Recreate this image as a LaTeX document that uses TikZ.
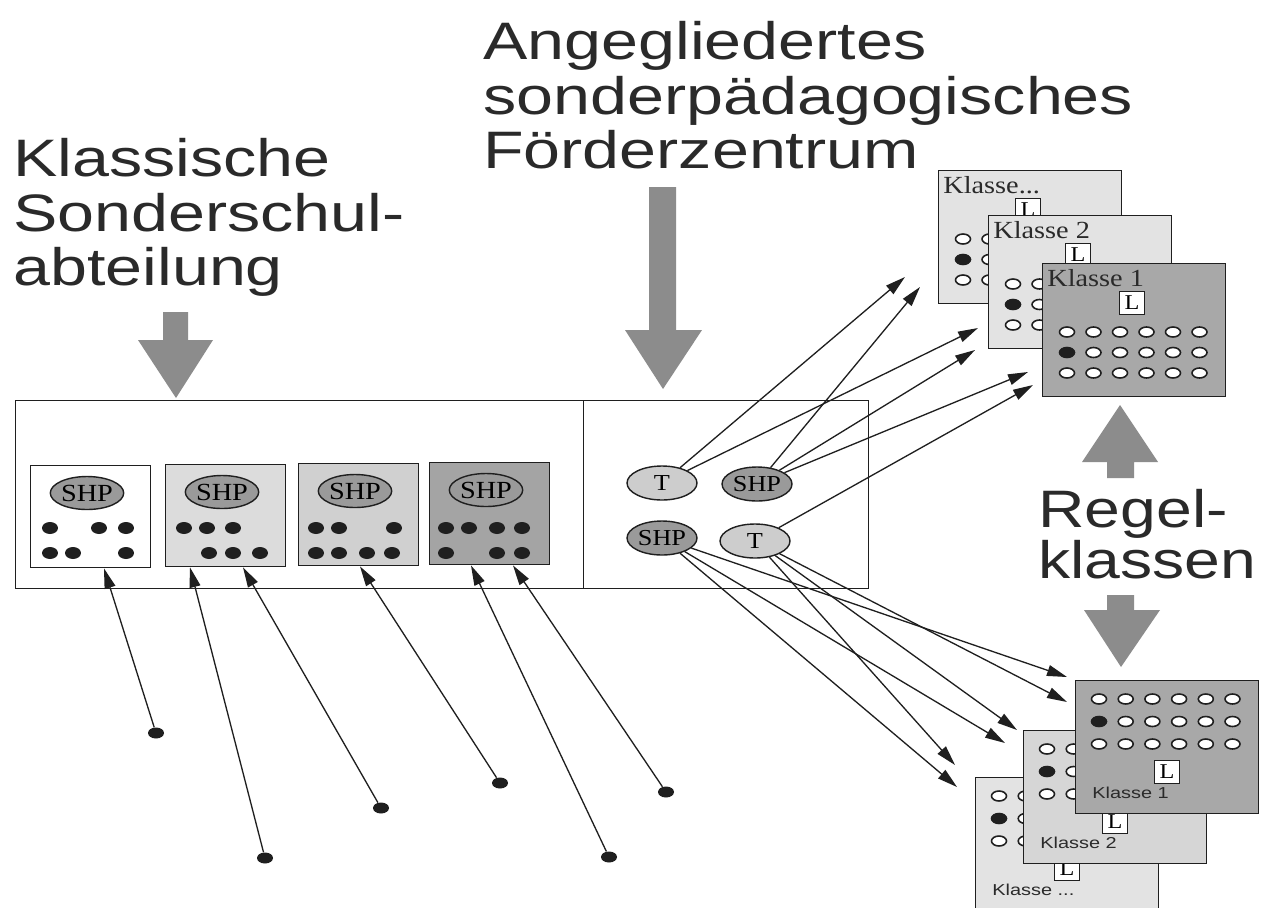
\documentclass[tikz,border=0pt]{standalone}
\usepackage{fontspec}
\setmainfont{Liberation Serif}
\newfontfamily\headfont[FakeStretch=1.26]{Liberation Sans}
\newfontfamily\regelfont[FakeStretch=1.22]{Liberation Sans}
\newfontfamily\markfont[FakeStretch=1.15]{Liberation Serif}
\usetikzlibrary{arrows.meta, positioning, calc, shapes.geometric}
\definecolor{LineDark}{HTML}{1F1F1F}
\definecolor{TextDark}{HTML}{2A2A2A}
\definecolor{ArrowGrey}{HTML}{8C8C8C}
\definecolor{PaleGrey}{HTML}{E3E3E3}
\definecolor{LightGrey}{HTML}{D6D6D6}
\definecolor{MidGrey}{HTML}{A8A8A8}
\definecolor{ShadeA}{HTML}{DCDCDC}
\definecolor{ShadeB}{HTML}{D0D0D0}
\definecolor{ShadeC}{HTML}{A4A4A4}
\definecolor{StaffGrey}{HTML}{9A9A9A}
\definecolor{TeachGrey}{HTML}{CDCDCD}

\tikzset{
  room/.style={draw=LineDark, line width=0.8pt, anchor=north west, inner sep=0pt},
  gruppe/.style={room, minimum width=24mm, minimum height=20.4mm},
  klasse/.style={room, minimum width=36.6mm, minimum height=26.6mm},
  person/.style={ellipse, draw=LineDark, line width=0.8pt, inner sep=0pt,
    minimum width=14mm, minimum height=6.8mm, font=\markfont\fontsize{13}{13}\selectfont},
  lehrer/.style={draw=LineDark, line width=0.8pt, fill=white, inner sep=0pt,
    minimum width=5mm, minimum height=4.6mm, font=\markfont\fontsize{12}{12}\selectfont},
  kind/.style={ellipse, fill=LineDark, inner sep=0pt, minimum width=3.2mm, minimum height=2.2mm},
  pupil/.style={draw=LineDark, line width=0.9pt, fill=white},
  link/.style={draw=LineDark, line width=0.75pt, -{Triangle[length=4mm, width=2.2mm]}},
  titel/.style={anchor=north west, inner sep=0pt, align=left, text=TextDark,
    font=\headfont\fontsize{30}{31}\selectfont},
}

\begin{document}
\begin{tikzpicture}[x=0.02cm, y=-0.02cm]
  \path[use as bounding box, fill=white] (0,0) rectangle (1268,907);

  \node[titel] (klassisch) at (13,138) {Klassische\\Sonderschul-\\abteilung};
  \node[titel] (angegliedert) at (483,21) {Angegliedertes\\sonderpädagogisches\\Förderzentrum};
  \node[titel, font=\regelfont\fontsize{30}{27}\selectfont] (regel) at (1038,489) {Regel-\\klassen};

  \fill[ArrowGrey] (163,312) -- (188,312) -- (188,340) -- (213,340) -- (176,398)
    -- (138,340) -- (163,340) -- cycle;
  \fill[ArrowGrey] (649,187) -- (676,187) -- (676,330) -- (702,330) -- (663,389)
    -- (625,330) -- (649,330) -- cycle;
  \fill[ArrowGrey] (1120,405) -- (1158,462) -- (1134,462) -- (1134,478) -- (1107,478)
    -- (1107,462) -- (1082,462) -- cycle;
  \fill[ArrowGrey] (1107,595) -- (1134,595) -- (1134,610) -- (1160,610) -- (1121,667)
    -- (1084,610) -- (1107,610) -- cycle;

  \node[room, minimum width=113.6mm, minimum height=37.6mm] (abteilung) at (15,400) {};
  \node[room, minimum width=57mm, minimum height=37.6mm] (zentrum) at (583,400) {};

  \foreach \nm/\px/\py/\fc in {1/30/465/white, 2/165/464/ShadeA, 3/298/463/ShadeB, 4/429/462/ShadeC}{
    \node[gruppe, fill=\fc] (abt\nm) at (\px,\py) {};
    \node[person, fill=StaffGrey, minimum width=14.2mm, minimum height=6.6mm,
      font=\markfont\fontsize{14}{14}\selectfont] (abt\nm-shp) at ([shift={(57,28)}]abt\nm.north west) {SHP};
  }
  \foreach \x/\y in {50/528, 99/528, 126/528, 50/553, 73/553, 126/553,
                     184/528, 207/528, 233/528, 209/553, 233/553, 260/553,
                     316/528, 339/528, 394/528, 316/553, 339/553, 367/553, 392/553,
                     446/528, 469/528, 497/528, 522/528, 446/553, 497/553, 522/553}
    \fill[LineDark] (\x,\y) ellipse [x radius=1.6mm, y radius=1.2mm];

  \foreach \nm/\dx/\dy/\bx/\off in {1/156/733/abt1/74, 2/265/858/abt2/25, 3/381/808/abt2/78,
                                    4/500/783/abt3/62, 5/609/857/abt4/42, 6/666/792/abt4/84}{
    \node[kind] (d\nm) at (\dx,\dy) {};
    \coordinate (z\nm) at ([xshift=\off*0.2mm]\bx.south west);
    \draw[link] (d\nm) -- (z\nm);
  }

  \node[person, fill=TeachGrey] (t1) at (662,483) {T};
  \node[person, fill=StaffGrey] (s1) at (757,484) {SHP};
  \node[person, fill=StaffGrey] (s2) at (662,538) {SHP};
  \node[person, fill=TeachGrey] (t2) at (755,541) {T};

  \foreach \nm/\px/\py/\fc/\txt in {3/938/170/PaleGrey/{Klasse...}, 2/988/215/PaleGrey/{Klasse 2},
                                    1/1042/263/MidGrey/{Klasse 1}}{
    \node[klasse, fill=\fc] (oben\nm) at (\px,\py) {};
    \node[anchor=north west, inner sep=0pt, text=TextDark, font=\markfont\fontsize{14}{14}\selectfont]
      (oben\nm-name) at ([shift={(5,6)}]oben\nm.north west) {\txt};
    \node[lehrer] (oben\nm-l) at ([shift={(90,40)}]oben\nm.north west) {L};
    \foreach \i in {0,...,5}
      \foreach \j in {0,1,2}
        \draw[pupil] ([shift={(25+26.5*\i,69+20.5*\j)}]oben\nm.north west) ellipse [x radius=1.5mm, y radius=1mm];
    \fill[LineDark] ([shift={(25,89.5)}]oben\nm.north west) ellipse [x radius=1.5mm, y radius=1mm];
  }

  \foreach \nm/\px/\py/\fc/\txt in {3/975/777/PaleGrey/{Klasse ...}, 2/1023/730/LightGrey/{Klasse 2},
                                    1/1075/680/MidGrey/{Klasse 1}}{
    \node[klasse, fill=\fc] (unten\nm) at (\px,\py) {};
    \node[anchor=base west, inner sep=0pt, text=TextDark, font=\headfont\fontsize{9}{9}\selectfont]
      (unten\nm-name) at ([shift={(17,118)}]unten\nm.north west) {\txt};
    \node[lehrer] (unten\nm-l) at ([shift={(92,92)}]unten\nm.north west) {L};
    \foreach \i in {0,...,5}
      \foreach \j in {0,1,2}
        \draw[pupil] ([shift={(24+26.7*\i,19+22.5*\j)}]unten\nm.north west) ellipse [x radius=1.5mm, y radius=1mm];
    \fill[LineDark] ([shift={(24,41.5)}]unten\nm.north west) ellipse [x radius=1.5mm, y radius=1mm];
  }

  \foreach \src/\x/\y [count=\k] in {t1/905/277, t1/978/328, s1/920/287, s1/975/350, s1/1028/372,
                                     t2/1033/385, s2/1067/677, s2/1005/743, s2/957/787,
                                     t2/1067/702, t2/1017/730, t2/955/765}{
    \coordinate (p\k) at (\x,\y);
    \draw[link] (\src) -- (p\k);
  }
\end{tikzpicture}
\end{document}
